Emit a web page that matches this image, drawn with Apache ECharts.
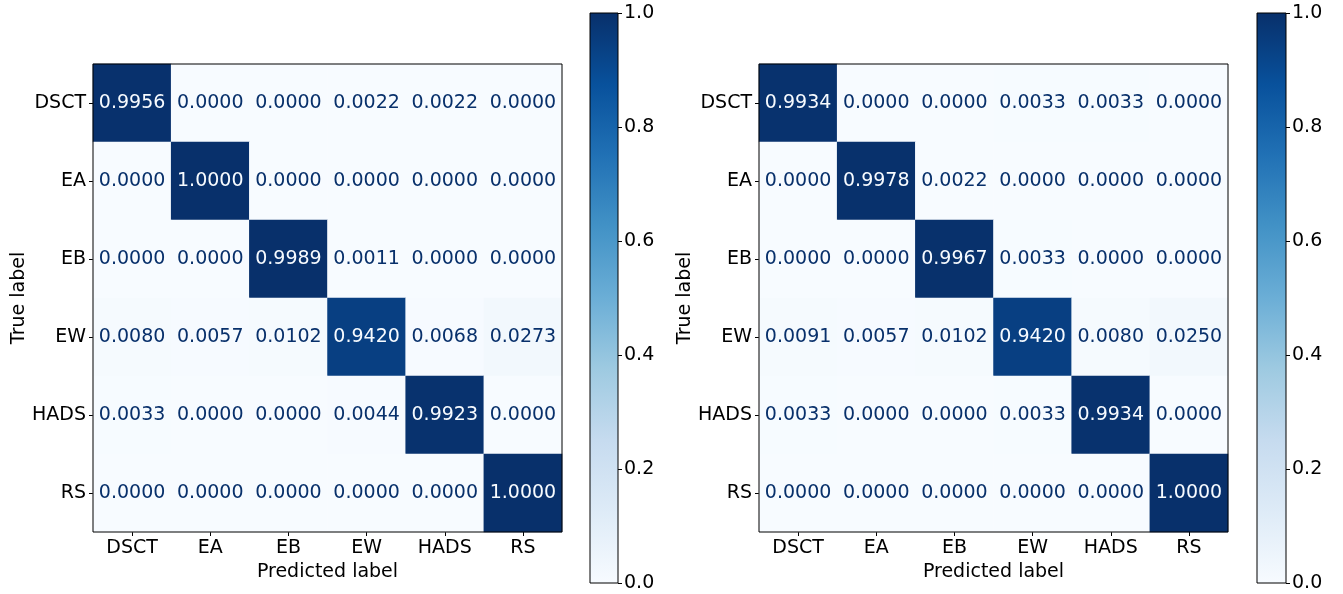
<!DOCTYPE html>
<html><head><meta charset="utf-8">
<script src="https://cdn.jsdelivr.net/npm/echarts@6/dist/echarts.min.js"></script>
<style>html,body{margin:0;padding:0;background:#fff}#c{width:1343px;height:594px}</style>
</head><body><div id="c"></div>
<script>
const classes = ['DSCT','EA','EB','EW','HADS','RS'];
const leftMatrix = [
  [0.9956,0.0000,0.0000,0.0022,0.0022,0.0000],
  [0.0000,1.0000,0.0000,0.0000,0.0000,0.0000],
  [0.0000,0.0000,0.9989,0.0011,0.0000,0.0000],
  [0.0080,0.0057,0.0102,0.9420,0.0068,0.0273],
  [0.0033,0.0000,0.0000,0.0044,0.9923,0.0000],
  [0.0000,0.0000,0.0000,0.0000,0.0000,1.0000]
];
const rightMatrix = [
  [0.9934,0.0000,0.0000,0.0033,0.0033,0.0000],
  [0.0000,0.9978,0.0022,0.0000,0.0000,0.0000],
  [0.0000,0.0000,0.9967,0.0033,0.0000,0.0000],
  [0.0091,0.0057,0.0102,0.9420,0.0080,0.0250],
  [0.0033,0.0000,0.0000,0.0033,0.9934,0.0000],
  [0.0000,0.0000,0.0000,0.0000,0.0000,1.0000]
];
const colorbarTicks = [0.0,0.2,0.4,0.6,0.8,1.0];
const xTitle = 'Predicted label';
const yTitle = 'True label';

const blues = ['#f7fbff','#deebf7','#c6dbef','#9ecae1','#6baed6','#4292c6','#2171b5','#08519c','#08306b'];
const FONT = 'DejaVu Sans';
const FS = 19;

function toData(m){
  const out=[];
  m.forEach((row,i)=>row.forEach((v,j)=>{
    out.push({value:[j,i,v],label:{color: v>0.5 ? '#f7fbff' : '#08306b'}});
  }));
  return out;
}

const heatGrids = [
  {left:93, top:64, width:469, height:468},
  {left:759, top:64, width:469, height:468}
];
const cbGrids = [
  {left:590, top:13, width:28, height:570},
  {left:1257, top:13, width:29, height:570}
];

const grid=[], xAxis=[], yAxis=[], series=[], visualMap=[];
[leftMatrix,rightMatrix].forEach((m,k)=>{
  grid.push(Object.assign({show:true, borderColor:'#000', borderWidth:1, backgroundColor:'transparent', z:5}, heatGrids[k]));
  xAxis.push({type:'category', gridIndex:k, data:classes, position:'bottom',
    axisLine:{show:false}, axisTick:{show:true, alignWithLabel:true, length:4, lineStyle:{color:'#000'}},
    axisLabel:{color:'#000', fontSize:FS, fontFamily:FONT, margin:7},
    splitLine:{show:false}, splitArea:{show:false},
    name:xTitle, nameLocation:'middle', nameGap:29,
    nameTextStyle:{color:'#000', fontSize:FS, fontFamily:FONT}});
  yAxis.push({type:'category', gridIndex:k, data:classes, inverse:true,
    axisLine:{show:false}, axisTick:{show:true, alignWithLabel:true, length:4, lineStyle:{color:'#000'}},
    axisLabel:{color:'#000', fontSize:FS, fontFamily:FONT, margin:7},
    splitLine:{show:false}, splitArea:{show:false},
    name:yTitle, nameLocation:'middle', nameGap:64,
    nameTextStyle:{color:'#000', fontSize:FS, fontFamily:FONT}});
  series.push({type:'heatmap', xAxisIndex:k, yAxisIndex:k, data:toData(m),
    label:{show:true, fontSize:FS, fontFamily:FONT, formatter:p=>p.value[2].toFixed(4)},
    itemStyle:{borderWidth:0}, emphasis:{disabled:true}, progressive:0});
  visualMap.push({type:'continuous', show:false, min:0, max:1, dimension:2, seriesIndex:series.length-1, inRange:{color:blues}});
});

cbGrids.forEach((g,k)=>{
  const gi = grid.length;
  grid.push(Object.assign({show:true, borderColor:'#000', borderWidth:1, backgroundColor:'transparent', z:5}, g));
  xAxis.push({type:'category', gridIndex:gi, data:[''], show:false});
  yAxis.push({type:'value', gridIndex:gi, min:0, max:1, interval:0.2, position:'right',
    axisLine:{show:false}, axisTick:{show:true, length:4, lineStyle:{color:'#000'}},
    axisLabel:{color:'#000', fontSize:FS, fontFamily:FONT, margin:6, formatter:v=>v.toFixed(1)},
    splitLine:{show:false}});
  const stops = blues.map((c,i)=>({offset:1-i/(blues.length-1), color:c}));
  series.push({type:'bar', xAxisIndex:gi, yAxisIndex:gi, data:[colorbarTicks[colorbarTicks.length-1]], barWidth:'100%',
    itemStyle:{color:new echarts.graphic.LinearGradient(0,0,0,1,stops)}, silent:true, animation:false});
});

const chart = echarts.init(document.getElementById('c'), null, {renderer:'canvas'});
chart.setOption({animation:false, backgroundColor:'#fff', grid, xAxis, yAxis, series, visualMap});
</script></body></html>
